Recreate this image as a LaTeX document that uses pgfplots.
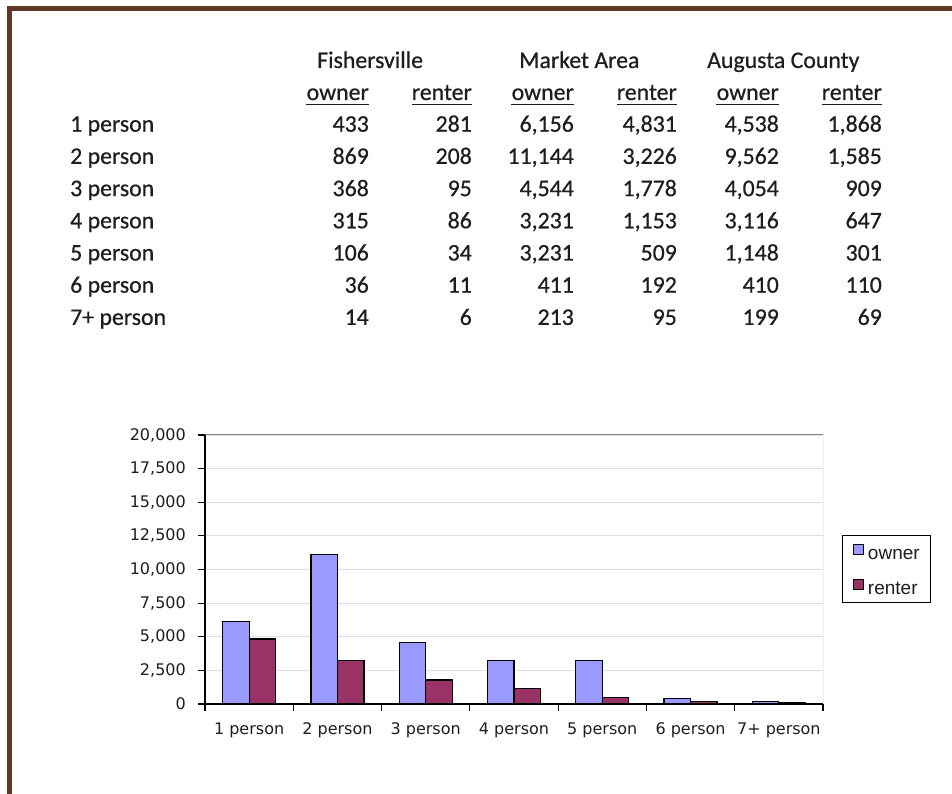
\documentclass[border=0pt]{standalone}
\usepackage{fontspec}
\setmainfont{Carlito}[FakeBold=0.6]
\newfontfamily\chartfont{DejaVu Sans}
\newfontfamily\legendfont{Liberation Sans}
\usepackage{pgfplots}
\usepackage{pgfplotstable}
\pgfplotsset{compat=1.18}
\definecolor{brd}{RGB}{94,58,36}
\definecolor{ownerc}{RGB}{153,153,255}
\definecolor{renterc}{RGB}{153,51,102}
\definecolor{gridc}{RGB}{216,224,233}
\definecolor{framec}{RGB}{135,135,135}
\definecolor{txt}{RGB}{30,30,30}

\pgfplotstableread{
x owner renter
0 6156 4831
1 11144 3226
2 4544 1778
3 3231 1153
4 3231 509
5 411 192
6 213 95
}\market

\newcommand\trow[8]{%
  \node[anchor=base west] at (70,#1) {#2};
  \node[anchor=base east] at (369,#1) {#3};
  \node[anchor=base east] at (472,#1) {#4};
  \node[anchor=base east] at (574,#1) {#5};
  \node[anchor=base east] at (677,#1) {#6};
  \node[anchor=base east] at (779,#1) {#7};
  \node[anchor=base east] at (882,#1) {#8};
}
\newcommand\uhead[2]{%
  \node[anchor=base east] (h) at (#1,694) {#2};
  \draw[txt, line width=1.3pt] ([yshift=-4.5pt]h.base west) -- ([yshift=-4.5pt]h.base east);
}

\begin{document}
\begin{tikzpicture}[x=1pt,y=1pt]
\useasboundingbox (0,0) rectangle (952,794);
\fill[white] (0,0) rectangle (952,794);
\fill[brd] (7,783) rectangle (952,788);
\fill[brd] (7,0) rectangle (12,788);

\begin{scope}[every node/.style={inner sep=0pt, font=\fontsize{23.8}{28}\selectfont, text=txt}]
  \node[anchor=base west] at (317,726) {Fishersville};
  \node[anchor=base west] at (519,726) {Market Area};
  \node[anchor=base west] at (707,726) {Augusta County};
  \uhead{369}{owner}
  \uhead{472}{renter}
  \uhead{574}{owner}
  \uhead{677}{renter}
  \uhead{779}{owner}
  \uhead{882}{renter}
  \trow{662.3}{1 person}{433}{281}{6,156}{4,831}{4,538}{1,868}
  \trow{630.1}{2 person}{869}{208}{11,144}{3,226}{9,562}{1,585}
  \trow{597.9}{3 person}{368}{95}{4,544}{1,778}{4,054}{909}
  \trow{565.7}{4 person}{315}{86}{3,231}{1,153}{3,116}{647}
  \trow{533.5}{5 person}{106}{34}{3,231}{509}{1,148}{301}
  \trow{501.3}{6 person}{36}{11}{411}{192}{410}{110}
  \trow{469.1}{7+ person}{14}{6}{213}{95}{199}{69}
\end{scope}

\begin{axis}[
  at={(205pt,90pt)}, anchor=south west,
  scale only axis, width=618pt, height=269pt,
  xmin=-0.5, xmax=6.5, ymin=0, ymax=20000,
  ybar=0pt, bar width=26.5pt,
  axis x line*=bottom, axis y line*=left,
  axis line style={line width=1.2pt, black},
  xtick={-0.5,0.5,1.5,2.5,3.5,4.5,5.5,6.5}, xticklabels={},
  extra x ticks={0,1,2,3,4,5,6},
  extra x tick labels={1 person,2 person,3 person,4 person,5 person,6 person,7+ person},
  extra x tick style={major tick length=0pt, grid=none},
  ytick={0,2500,5000,7500,10000,12500,15000,17500,20000},
  scaled y ticks=false,
  ymajorgrids, grid style={gridc, line width=1.2pt},
  tick align=outside, major tick length=7pt,
  tick style={black, line width=1.2pt},
  ticklabel style={font=\chartfont\fontsize{16}{19}\selectfont, text=txt},
  xticklabel style={inner sep=0pt, text height=12pt, text depth=4pt, anchor=north, yshift=-18pt},
  yticklabel style={inner sep=0pt, xshift=-12pt},
  /pgf/number format/1000 sep={,},
  /pgf/number format/assume math mode=true,
  legend style={at={(1.0307,0.628)}, anchor=north west, draw=black, line width=1pt,
    font=\legendfont\fontsize{19}{22}\selectfont,
    inner xsep=10.5pt, inner ysep=8pt, row sep=20pt, column sep=4pt,
    nodes={inner sep=0pt, text height=10pt, text depth=0pt, text=txt},
    cells={anchor=west}},
]
\addplot[fill=ownerc, draw=black, line width=1.2pt,
  legend image code/.code={\draw[fill=ownerc, draw=black, line width=1pt] (0pt,0pt) rectangle (10pt,10pt);}]
  table[x=x, y=owner] {\market};
\addlegendentry{owner}
\addplot[fill=renterc, draw=black, line width=1.2pt,
  legend image code/.code={\draw[fill=renterc, draw=black, line width=1pt] (0pt,0pt) rectangle (10pt,10pt);}]
  table[x=x, y=renter] {\market};
\addlegendentry{renter}
\draw[framec, line width=1pt] (rel axis cs:0,1) -- (rel axis cs:1,1) -- (rel axis cs:1,0);
\end{axis}
\end{tikzpicture}
\end{document}
